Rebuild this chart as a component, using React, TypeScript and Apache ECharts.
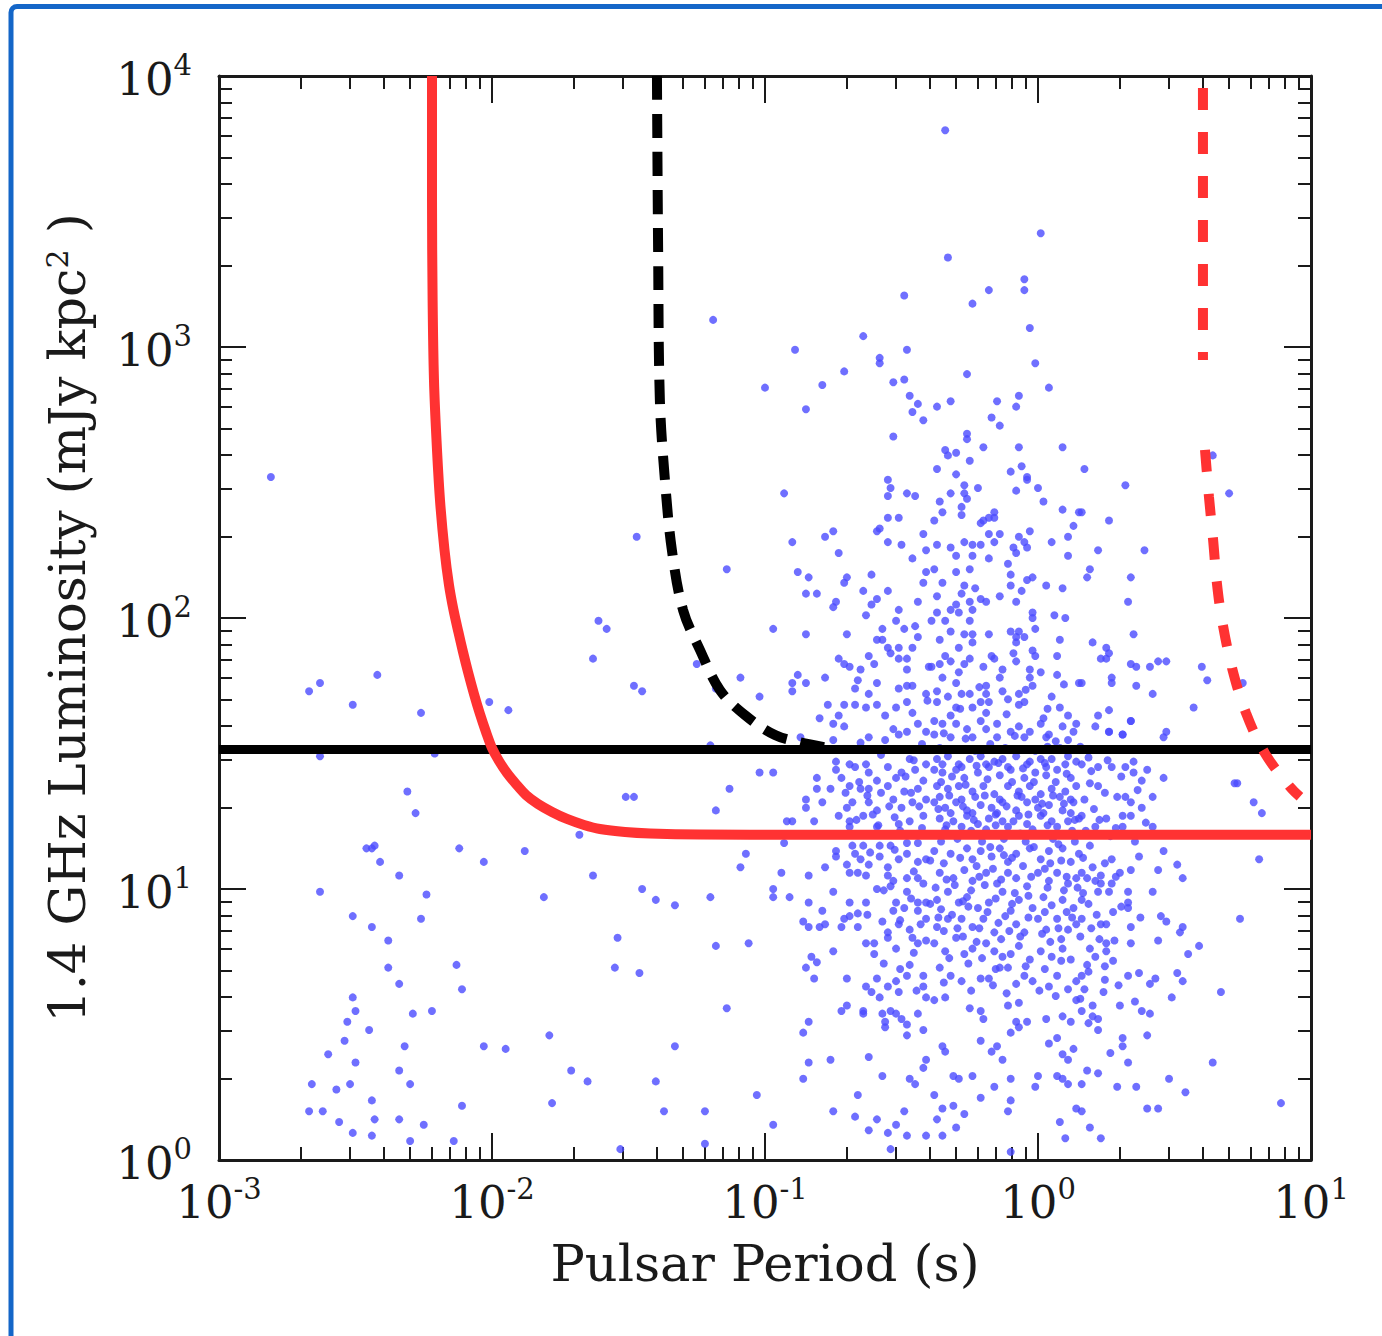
import React, { useEffect, useRef } from "react";
import * as echarts from "echarts";

// ---- axis values ----
const xMin = 0.001;
const xMax = 10;
const yMin = 1;
const yMax = 10000;
const xMinorTicks = [
  0.002, 0.003, 0.004, 0.005, 0.006, 0.007, 0.008, 0.009,
  0.02, 0.03, 0.04, 0.05, 0.06, 0.07, 0.08, 0.09,
  0.2, 0.3, 0.4, 0.5, 0.6, 0.7, 0.8, 0.9,
  2, 3, 4, 5, 6, 7, 8, 9,
];
const yMinorTicks = [
  2, 3, 4, 5, 6, 7, 8, 9,
  20, 30, 40, 50, 60, 70, 80, 90,
  200, 300, 400, 500, 600, 700, 800, 900,
  2000, 3000, 4000, 5000, 6000, 7000, 8000, 9000,
];
const xTitle = "Pulsar Period (s)";
const yTitle = "1.4 GHz Luminosity (mJy kpc{sup|2} )";

// ---- model lines: [period (s), luminosity (mJy kpc^2)] ----
const blackThresholdLum = 32.7;
const redSolidCurve = [
  [0.006029, 10000], [0.006029, 3486], [0.00606, 1491], [0.00613, 755], [0.006262, 454],
  [0.006449, 272.5], [0.006699, 178.2], [0.006957, 132.4], [0.007228, 107.0], [0.00753, 88.8],
  [0.007832, 74.9], [0.008169, 63.2], [0.008593, 52.4], [0.009036, 44.2], [0.009506, 37.96],
  [0.01, 33.14], [0.01061, 29.67], [0.01135, 26.79], [0.01224, 24.41], [0.01332, 22.23],
  [0.01474, 20.59], [0.01659, 19.24], [0.01882, 18.13], [0.02173, 17.23], [0.02486, 16.65],
  [0.0307, 16.23], [0.03792, 16.03], [0.0578, 15.89], [0.1343, 15.86], [10, 15.86],
];
const blackDashedCurve = [
  [0.0402, 10000], [0.0406, 2280], [0.0412, 637], [0.043, 323], [0.0456, 178],
  [0.0501, 107], [0.0578, 76.2], [0.0684, 54.2], [0.0845, 43.8], [0.1088, 37.0],
  [0.1343, 34.8], [0.173, 33.1],
];
const redDashedUpper = [[4.02, 10000], [4.02, 895]];
const redDashedLower = [
  [4.09, 417], [4.23, 279], [4.38, 194], [4.52, 135], [4.72, 98.3], [5.14, 65.3],
  [5.78, 44.6], [6.78, 31.7], [8.38, 23.8], [9.11, 21.9],
];

// ---- pulsars, read as [log10 period, log10 luminosity] ----
const fastPulsarsLog = [
  [-2.81,2.52],[-1.47,2.30],[-1.61,1.99],[-1.58,1.96],[-1.63,1.85],[-2.67,1.73],[-2.63,1.76],[-2.51,1.68],[-2.42,1.79],[-2.26,1.65],
  [-2.01,1.69],[-1.94,1.66],[-1.48,1.75],[-1.45,1.73],[-2.63,1.49],[-2.21,1.50],[-2.31,1.36],[-2.28,1.28],[-2.46,1.15],[-2.44,1.15],
  [-2.43,1.16],[-2.41,1.10],[-2.34,1.05],[-2.63,0.99],[-2.24,0.98],[-2.12,1.15],[-2.03,1.10],[-1.88,1.14],[-1.81,0.97],[-1.68,1.20],
  [-1.63,1.05],[-1.51,1.34],[-1.48,1.34],[-1.45,1.00],[-1.19,3.10],[-1.14,2.18],[-1.25,1.83],
  [-2.51,0.90],[-2.44,0.86],[-2.38,0.81],[-2.38,0.71],[-2.34,0.65],[-2.26,0.89],[-2.22,0.55],[-2.13,0.72],[-2.11,0.63],
  [-2.51,0.60],[-2.50,0.55],[-2.53,0.51],[-2.54,0.44],[-2.45,0.48],[-2.60,0.39],[-2.50,0.36],[-2.66,0.28],[-2.57,0.26],[-2.52,0.28],
  [-2.44,0.22],[-2.34,0.33],[-2.30,0.28],[-2.32,0.42],[-2.29,0.54],[-2.67,0.18],[-2.62,0.18],[-2.56,0.14],[-2.51,0.10],[-2.43,0.15],
  [-2.44,0.09],[-2.34,0.15],[-2.30,0.07],[-2.25,0.13],[-2.14,0.07],[-2.11,0.20],[-2.03,0.42],[-1.95,0.41],[-1.79,0.46],[-1.71,0.33],
  [-1.65,0.29],[-1.78,0.21],
  [-1.54,0.82],[-1.46,0.69],[-1.55,0.71],[-1.40,0.96],[-1.33,0.94],[-1.20,0.97],[-1.09,1.08],[-1.18,0.79],[-1.06,0.80],[-1.14,0.56],
  [-1.33,0.42],[-1.40,0.29],[-1.53,0.04],[-1.37,0.18],[-1.22,0.18],[-1.22,0.06],[-1.03,0.24],[-1.07,1.13],[-1.18,1.29],[-1.13,1.37],
  [-1.02,1.43],[-1.20,1.53],[-1.09,1.78],[-1.02,1.71],[-1.18,1.74],
];
const slowPulsarsLog = [
  [-0.34,3.80],[0.01,3.42],[-0.33,3.33],[-1.00,2.85],
  [-0.49,3.19],[-0.64,3.04],[-0.89,2.99],[-0.48,2.99],[-0.58,2.96],[-0.58,2.94],[-0.71,2.91],[-0.49,2.88],[-0.53,2.87],[-0.79,2.86],
  [-0.47,2.82],[-0.44,2.79],[-0.46,2.76],[-0.42,2.73],[-0.85,2.77],[-0.53,2.67],[-0.55,2.51],[-0.54,2.48],[-0.55,2.45],[-0.93,2.46],
  [-0.48,2.46],[-0.45,2.45],[-0.55,2.37],[-0.51,2.37],[-0.58,2.33],[-0.59,2.32],[-0.75,2.32],[-0.78,2.30],[-0.42,2.31],[-0.90,2.28],
  [-0.55,2.28],[-0.50,2.27],[-0.73,2.24],[-0.46,2.22],[-0.41,2.25],[-0.88,2.17],[-0.84,2.15],[-0.70,2.15],[-0.71,2.13],[-0.61,2.16],
  [-0.41,2.17],[-0.42,2.13],[-0.85,2.09],[-0.81,2.09],[-0.64,2.10],[-0.55,2.10],[-0.59,2.07],[-0.61,2.05],[-0.74,2.06],[-0.75,2.04],
  [-0.44,2.06],[-0.51,2.03],[-0.63,2.01],[-0.97,1.96],[-0.85,1.94],[-0.70,1.94],[-0.57,1.96],[-0.52,1.99],[-0.49,1.96],[-0.45,1.97],
  [-0.59,1.92],[-0.57,1.92],[-0.55,1.89],[-0.54,1.87],[-0.51,1.89],[-0.46,1.89],[-0.44,1.93],[-0.62,1.86],[-0.60,1.83],[-0.73,1.85],
  [-0.71,1.83],[-0.69,1.82],[-0.65,1.81],[-0.66,1.77],[-0.67,1.74],[-0.59,1.76],[-0.62,1.72],[-0.51,1.85],[-0.48,1.85],[-0.48,1.81],
  [-0.88,1.79],[-0.90,1.76],[-0.90,1.73],[-0.85,1.76],[-0.78,1.78],[-0.51,1.74],[-0.48,1.75],[-0.46,1.75],[-0.41,1.72],[-0.40,1.82],
  [-0.77,1.68],[-0.71,1.68],[-0.67,1.68],[-0.63,1.67],[-0.59,1.68],[-0.52,1.67],[-0.48,1.69],[-0.56,1.64],[-0.80,1.63],[-0.73,1.64],
  [-0.46,1.65],
  [-0.18,3.21],[-0.05,3.21],[-0.05,3.25],[-0.24,3.16],[-0.03,3.07],[-0.01,2.94],[-0.26,2.90],[0.04,2.85],[-0.37,2.78],[-0.32,2.80],
  [-0.15,2.80],[-0.07,2.82],[-0.08,2.78],[-0.17,2.74],[-0.14,2.71],[-0.26,2.68],[-0.26,2.66],[-0.34,2.62],[-0.33,2.60],[-0.30,2.61],
  [-0.20,2.63],[-0.07,2.63],[0.09,2.63],[-0.25,2.58],[-0.37,2.55],[-0.30,2.53],[-0.10,2.54],[-0.06,2.56],[-0.04,2.52],[-0.04,2.51],
  [-0.27,2.49],[-0.22,2.48],[-0.08,2.47],[0.00,2.48],[-0.32,2.46],[-0.27,2.46],[-0.26,2.44],[-0.36,2.43],[0.02,2.43],[-0.28,2.41],
  [-0.35,2.39],[-0.28,2.38],[-0.38,2.36],[0.09,2.40],[0.15,2.39],[-0.16,2.39],[-0.20,2.36],[-0.18,2.37],[-0.16,2.37],[-0.21,2.35],
  [0.13,2.34],[-0.03,2.32],[-0.14,2.31],[-0.18,2.31],[-0.16,2.28],[-0.21,2.27],[-0.27,2.28],[-0.24,2.27],[-0.07,2.30],[-0.05,2.28],
  [-0.04,2.26],[-0.09,2.26],[-0.08,2.24],[-0.37,2.27],[-0.32,2.26],[-0.30,2.23],[-0.24,2.23],[-0.18,2.22],[-0.11,2.20],[0.05,2.28],
  [0.11,2.23],[0.11,2.30],[-0.25,2.18],[-0.30,2.17],[-0.38,2.18],[-0.35,2.13],[-0.10,2.16],[-0.10,2.12],[-0.04,2.14],[-0.02,2.15],
  [-0.06,2.10],[0.03,2.12],[0.09,2.11],[-0.27,2.12],[-0.23,2.11],[-0.28,2.09],[-0.37,2.08],[-0.21,2.07],[-0.19,2.06],[-0.25,2.06],
  [-0.30,2.05],[-0.32,2.03],[-0.29,2.02],[-0.24,2.03],[-0.14,2.08],[-0.08,2.06],[-0.37,2.02],[-0.39,1.99],[-0.25,1.99],[-0.34,1.99],
  [-0.02,2.02],[-0.02,2.00],[0.06,2.01],[0.10,2.00],[-0.32,1.95],[-0.27,1.94],[-0.24,1.94],[-0.18,1.94],[-0.10,1.95],[-0.07,1.95],
  [-0.08,1.93],[-0.05,1.93],[-0.08,1.91],[-0.01,1.96],[0.08,1.92],[-0.36,1.92],[-0.24,1.91],[-0.29,1.89],[-0.02,1.88],[-0.01,1.86],
  [0.07,1.86],[-0.17,1.86],[-0.16,1.85],[-0.09,1.87],[-0.08,1.84],[-0.25,1.85],[-0.27,1.83],[-0.20,1.82],[-0.34,1.86],[-0.32,1.84],
  [-0.36,1.83],[-0.39,1.82],[-0.35,1.78],[-0.29,1.80],[-0.30,1.76],[-0.37,1.73],[-0.13,1.81],[-0.14,1.78],[-0.03,1.81],[-0.03,1.78],
  [0.01,1.80],[0.07,1.79],[-0.02,1.75],[-0.07,1.72],[-0.11,1.70],[-0.13,1.73],[-0.19,1.75],[-0.19,1.72],[-0.21,1.69],[-0.18,1.69],
  [-0.25,1.72],[-0.28,1.72],[-0.33,1.71],[-0.37,1.69],[-0.30,1.67],[-0.24,1.67],[-0.07,1.68],[-0.05,1.69],[0.05,1.71],[0.08,1.67],
  [0.11,1.64],[0.15,1.76],[0.02,1.63],[-0.19,1.65],[-0.32,1.64],
  [0.17,2.55],[0.32,2.49],[0.16,2.39],[0.26,2.36],[0.22,2.25],[0.39,2.25],[0.19,2.18],[0.18,2.15],[0.34,2.15],[0.33,2.06],
  [0.35,1.94],[0.20,1.91],[0.25,1.89],[0.26,1.87],[0.23,1.85],[0.25,1.85],[0.34,1.83],[0.36,1.82],[0.41,1.82],[0.44,1.84],
  [0.47,1.84],[0.60,1.82],[0.62,1.77],[0.27,1.78],[0.27,1.76],[0.16,1.76],[0.36,1.75],[0.42,1.72],[0.26,1.66],[0.22,1.64],
  [0.57,1.67],[0.34,1.62],[0.64,2.60],[0.70,2.46],[0.75,1.76],[0.46,1.56],[0.26,1.58],[0.31,1.57],[0.73,1.39],[0.79,1.32],
  [0.82,1.28],[0.81,1.11],
  [-0.75,1.61],[-0.71,1.60],[-0.53,1.59],[-0.51,1.57],[-0.48,1.58],[-0.44,1.61],[-0.41,1.58],[-0.56,1.55],[-0.62,1.56],[-0.65,1.54],
  [-0.75,1.55],[-0.87,1.56],[-0.97,1.43],[-0.81,1.41],[-0.74,1.47],[-0.74,1.44],[-0.72,1.41],[-0.69,1.46],[-0.67,1.45],[-0.63,1.46],
  [-0.62,1.43],[-0.59,1.40],[-0.55,1.45],[-0.52,1.41],[-0.50,1.43],[-0.47,1.48],[-0.45,1.44],[-0.42,1.40],[-0.41,1.46],[-0.81,1.37],
  [-0.76,1.37],[-0.69,1.38],[-0.65,1.37],[-0.62,1.37],[-0.55,1.38],[-0.49,1.36],[-0.44,1.37],[-0.85,1.33],[-0.85,1.30],[-0.79,1.32],
  [-0.70,1.30],[-0.68,1.32],[-0.62,1.32],[-0.59,1.29],[-0.53,1.33],[-0.50,1.30],[-0.46,1.32],[-0.41,1.33],[-0.92,1.25],[-0.90,1.25],
  [-0.82,1.25],[-0.73,1.27],[-0.69,1.25],[-0.69,1.23],[-0.64,1.27],[-0.59,1.23],[-0.51,1.24],[-0.47,1.25],[-0.42,1.27],
  [-0.93,1.17],[-0.68,1.16],[-0.64,1.16],[-0.58,1.16],[-0.54,1.16],[-0.48,1.17],[-0.44,1.17],[-0.74,1.14],[-0.74,1.12],[-0.67,1.13],
  [-0.65,1.11],[-0.62,1.09],[-0.58,1.12],[-0.55,1.08],[-0.51,1.11],[-0.48,1.13],[-0.44,1.10],[-0.41,1.11],[-0.78,1.08],[-0.94,1.06],
  [-0.84,1.05],[-0.70,1.09],[-0.69,1.06],[-0.66,1.06],[-0.63,1.05],[-0.55,1.05],[-0.53,1.03],[-0.48,1.04],[-0.44,1.04],[-0.59,1.00],
  [-0.54,1.01],[-0.48,0.99],[-0.42,1.02],[-0.97,1.00],[-0.97,0.97],[-0.91,0.97],[-0.75,0.99],[-0.84,0.95],[-0.69,0.95],[-0.63,0.95],
  [-0.52,0.95],[-0.49,0.93],[-0.44,0.95],[-0.41,0.95],[-0.79,0.92],[-0.66,0.91],[-0.53,0.92],[-0.44,0.92],[-0.86,0.88],[-0.84,0.86],
  [-0.80,0.86],[-0.78,0.87],[-0.72,0.86],[-0.71,0.89],[-0.69,0.90],[-0.66,0.86],[-0.57,0.88],[-0.55,0.84],[-0.51,0.87],[-0.47,0.85],
  [-0.43,0.87],[-0.41,0.89],[-0.63,0.80],[-0.60,0.80],[-0.55,0.82],[-0.52,0.78],[-0.46,0.82],[-0.44,0.80],[-0.41,0.81],[-0.75,0.77],
  [-0.83,0.75],[-0.81,0.73],[-0.60,0.76],[-0.85,0.71],[-0.82,0.67],[-0.70,0.67],[-0.47,0.72],[-0.48,0.68],[-0.42,0.68],[-0.59,0.67],
  [-0.55,0.64],[-0.63,0.64],[-0.61,0.62],[-0.58,0.60],[-0.52,0.66],[-0.51,0.62],[-0.42,0.64],[-0.41,0.60],[-0.70,0.57],[-0.72,0.55],
  [-0.64,0.55],[-0.64,0.54],[-0.57,0.54],[-0.54,0.55],[-0.52,0.54],[-0.56,0.51],[-0.56,0.49],[-0.50,0.52],[-0.48,0.50],[-0.48,0.46],
  [-0.44,0.54],[-0.42,0.48],[-0.84,0.51],[-0.86,0.47],[-0.84,0.36],[-0.76,0.37],[-0.62,0.38],[-0.57,0.31],[-0.86,0.30],[-0.47,0.30],
  [-0.45,0.28],[-0.41,0.37],[-0.42,0.34],[-0.66,0.24],[-0.75,0.18],[-0.67,0.16],[-0.59,0.15],[-0.62,0.11],[-0.55,0.10],[-0.52,0.13],
  [-0.49,0.18],[-0.48,0.09],[-0.41,0.09],[-0.54,0.04],[-0.97,0.13],
  [-0.655,1.395],[-0.575,1.355],[-0.485,1.415],[-0.435,1.305],[-0.605,1.275],[-0.525,1.265],
  [-0.615,1.135],[-0.525,1.145],[-0.455,1.065],[-0.565,0.995],[-0.465,0.965],[-0.625,0.905],[-0.505,0.885],[-0.455,0.765],
  [-0.565,0.725],[-0.505,0.705],[-0.445,0.625],
  [-0.625,1.345],[-0.545,1.305],[-0.465,1.355],[-0.585,1.235],[-0.505,1.215],[-0.425,1.225],[-0.665,1.255],[-0.455,1.475],
  [-0.575,1.495],[-0.705,1.355],
  [-0.38,1.62],[-0.35,1.61],[-0.30,1.61],[-0.26,1.59],[-0.21,1.62],[-0.19,1.59],[-0.15,1.61],[-0.10,1.58],[-0.07,1.60],[-0.03,1.58],
  [0.01,1.61],[0.04,1.57],[0.09,1.60],[0.13,1.58],[0.14,1.61],[-0.38,1.57],[-0.32,1.56],[-0.24,1.56],[-0.15,1.56],[-0.05,1.56],
  [0.03,1.56],[0.11,1.55],[-0.36,1.52],[-0.23,1.51],[-0.12,1.52],[-0.01,1.51],[0.08,1.52],
  [-0.285,1.665],[-0.215,1.745],[-0.115,1.645],[-0.045,1.735],[0.035,1.665],[0.095,1.755],[-0.405,1.695],[-0.345,1.575],
  [-0.425,1.535],[-0.265,1.555],[-0.175,1.535],[-0.085,1.565],[0.065,1.545],[0.155,1.525],[-0.305,1.515],[0.035,1.525],
  [-0.37,1.48],[-0.33,1.49],[-0.29,1.46],[-0.25,1.48],[-0.21,1.49],[-0.16,1.47],[-0.13,1.48],[-0.08,1.49],[-0.03,1.47],[0.01,1.48],
  [0.05,1.48],[0.11,1.49],[0.14,1.47],[-0.35,1.46],[-0.28,1.45],[-0.19,1.46],[-0.11,1.45],[-0.04,1.46],[0.03,1.45],[0.10,1.46],
  [-0.38,1.44],[-0.35,1.43],[-0.30,1.44],[-0.27,1.41],[-0.22,1.43],[-0.18,1.45],[-0.14,1.42],[-0.10,1.44],[-0.05,1.41],[-0.01,1.43],
  [0.03,1.42],[0.07,1.44],[0.12,1.41],[-0.37,1.38],[-0.33,1.37],[-0.29,1.38],[-0.24,1.36],[-0.20,1.38],[-0.16,1.35],[-0.11,1.38],
  [-0.07,1.36],[-0.03,1.38],[0.01,1.35],[0.05,1.37],[0.10,1.36],[0.14,1.38],[-0.36,1.34],[-0.28,1.33],[-0.23,1.34],[-0.14,1.33],
  [-0.06,1.34],[-0.01,1.33],[0.08,1.34],[0.12,1.33],[-0.38,1.32],[-0.34,1.30],[-0.30,1.32],[-0.26,1.29],[-0.21,1.31],[-0.17,1.30],
  [-0.13,1.32],[-0.08,1.29],[-0.04,1.32],[0.00,1.30],[0.04,1.31],[0.09,1.29],[0.13,1.32],[-0.32,1.28],[-0.24,1.28],[-0.15,1.28],
  [-0.07,1.27],[0.02,1.28],[0.12,1.28],[-0.36,1.26],[-0.31,1.25],[-0.26,1.27],[-0.22,1.24],[-0.18,1.26],[-0.13,1.25],[-0.09,1.25],
  [-0.04,1.24],[0.01,1.27],[0.05,1.25],[0.11,1.25],[0.15,1.26],[-0.34,1.22],[-0.28,1.23],[-0.19,1.22],[-0.11,1.23],[-0.02,1.22],
  [0.07,1.23],
  [-0.355,1.395],[-0.315,1.415],[-0.265,1.385],[-0.225,1.455],[-0.185,1.405],[-0.145,1.465],[-0.095,1.395],[-0.055,1.445],
  [-0.015,1.395],[0.025,1.465],[0.065,1.395],[0.105,1.425],[-0.365,1.295],[-0.325,1.345],[-0.275,1.305],[-0.235,1.255],
  [-0.195,1.345],[-0.155,1.275],[-0.115,1.305],[-0.075,1.345],[-0.035,1.275],[0.015,1.315],[0.055,1.345],[0.095,1.315],
  [0.135,1.255],[-0.335,1.235],[-0.245,1.215],[-0.155,1.235],[-0.065,1.205],[0.035,1.235],[0.125,1.215],
  [-0.38,1.14],[-0.32,1.13],[-0.26,1.15],[-0.24,1.11],[-0.21,1.14],[-0.17,1.12],[-0.14,1.15],[-0.11,1.10],[-0.08,1.13],[-0.03,1.15],
  [0.01,1.11],[0.04,1.14],[0.09,1.15],[0.12,1.10],[0.15,1.13],[-0.36,1.06],[-0.31,1.04],[-0.27,1.07],[-0.24,1.03],[-0.19,1.06],
  [-0.15,1.02],[-0.11,1.06],[-0.08,1.04],[-0.04,1.01],[0.00,1.06],[0.04,1.03],[0.07,1.06],[0.11,1.02],[0.14,1.04],[-0.37,0.96],
  [-0.33,0.99],[-0.29,0.95],[-0.26,0.97],[-0.22,0.93],[-0.18,0.95],[-0.13,0.99],[-0.10,0.92],[-0.07,0.96],[-0.02,0.93],[0.02,0.97],
  [0.05,0.94],[0.09,0.96],[0.13,0.93],[-0.37,0.86],[-0.33,0.89],[-0.28,0.89],[-0.24,0.86],[-0.20,0.89],[-0.16,0.84],[-0.12,0.90],
  [-0.08,0.87],[-0.05,0.84],[0.00,0.89],[0.03,0.85],[0.07,0.89],[0.11,0.85],[0.14,0.87],[-0.38,0.80],[-0.34,0.77],[-0.30,0.82],
  [-0.27,0.76],[-0.24,0.78],[-0.19,0.80],[-0.16,0.77],[-0.13,0.75],[-0.10,0.76],[-0.07,0.79],[-0.03,0.74],[0.01,0.77],[0.05,0.75],
  [0.09,0.78],[0.12,0.74],[-0.36,0.71],[-0.32,0.68],[-0.28,0.66],[-0.21,0.67],[-0.18,0.67],[-0.14,0.71],[-0.11,0.71],[-0.08,0.65],
  [-0.05,0.68],[-0.02,0.66],[0.04,0.64],[0.07,0.68],[0.11,0.63],[0.14,0.66],[-0.38,0.59],[-0.34,0.60],[-0.25,0.56],[-0.21,0.55],
  [-0.20,0.52],[-0.11,0.57],[-0.07,0.58],[-0.08,0.51],[-0.04,0.51],[0.03,0.52],[0.09,0.53],[0.12,0.51],[0.14,0.59],[-0.35,0.42],
  [-0.34,0.40],[-0.21,0.44],[-0.17,0.40],[-0.15,0.42],[-0.13,0.37],[-0.10,0.47],[-0.07,0.49],[0.04,0.43],[0.07,0.45],[0.09,0.39],
  [0.11,0.37],[0.13,0.41],[-0.31,0.31],[-0.29,0.30],[-0.24,0.31],[-0.16,0.27],[-0.10,0.30],[0.00,0.31],[-0.01,0.27],[0.07,0.31],
  [0.09,0.30],[0.11,0.28],[-0.38,0.24],[-0.31,0.20],[-0.27,0.17],[-0.21,0.23],[-0.11,0.18],[-0.10,0.22],[-0.35,0.19],[-0.37,0.15],
  [-0.30,0.12],[-0.35,0.09],[0.08,0.14],[0.10,0.08],[0.14,0.19],[-0.10,0.03],
  [-0.355,1.175],[-0.295,1.185],[-0.205,1.175],[-0.125,1.185],[-0.045,1.175],[0.055,1.185],[0.135,1.175],
  [-0.345,1.095],[-0.285,1.115],[-0.225,1.085],[-0.165,1.075],[-0.125,1.125],[-0.055,1.085],[0.025,1.075],[0.085,1.105],
  [0.165,1.115],[0.245,1.095],[-0.375,1.005],[-0.305,1.015],[-0.245,0.995],[-0.195,1.015],[-0.135,1.035],[-0.085,0.985],
  [-0.025,1.045],[0.035,1.005],[0.095,0.995],[0.145,1.005],[0.185,0.945],[0.285,1.045],[-0.355,0.925],[-0.315,0.905],
  [-0.255,0.935],[-0.185,0.915],[-0.145,0.875],[-0.095,0.945],[-0.035,0.895],[0.025,0.915],[0.075,0.855],[0.125,0.895],
  [0.195,0.855],[0.275,0.915],[-0.345,0.845],[-0.275,0.825],[-0.215,0.855],[-0.135,0.815],[-0.065,0.825],[0.015,0.835],
  [0.085,0.815],[0.155,0.825],[0.225,0.815],[-0.325,0.745],[-0.255,0.725],[-0.205,0.745],[-0.155,0.705],[-0.045,0.715],
  [0.025,0.705],[0.085,0.735],[0.185,0.695],[0.275,0.735],[-0.345,0.655],[-0.245,0.625],[-0.165,0.645],[-0.115,0.615],
  [0.005,0.625],[0.065,0.605],[0.155,0.595],[0.245,0.665],
  [-0.395,1.105],[-0.335,1.035],[-0.275,0.955],[-0.215,1.045],[-0.155,0.965],[-0.095,1.115],[-0.035,0.975],[0.045,1.095],
  [0.105,1.045],[0.165,0.985],[-0.365,0.895],[-0.295,0.855],[-0.225,0.805],[-0.105,0.845],[0.045,0.805],[0.105,0.915],
  [-0.395,0.945],[-0.175,1.155],[0.075,1.165],[-0.015,1.155],
  [0.21,1.60],[0.26,1.58],[0.31,1.57],[0.34,1.62],[0.47,1.58],[0.16,1.46],[0.22,1.45],[0.27,1.45],[0.32,1.45],[0.35,1.47],
  [0.35,1.43],[0.40,1.44],[0.38,1.40],[0.46,1.41],[0.72,1.39],[0.19,1.39],[0.22,1.38],[0.17,1.33],[0.29,1.34],[0.32,1.34],
  [0.34,1.32],[0.38,1.30],[0.42,1.34],[0.16,1.27],[0.25,1.26],[0.31,1.27],[0.34,1.27],[0.21,1.23],[0.31,1.23],[0.42,1.23],
  [0.19,1.16],[0.27,1.11],[0.37,1.12],[0.46,1.14],[0.51,1.09],[0.53,1.04],[0.20,1.08],[0.16,1.06],[0.18,1.04],[0.21,1.03],
  [0.23,1.05],[0.23,1.02],[0.27,1.02],[0.30,1.06],[0.34,1.07],[0.44,1.07],[0.22,0.99],[0.26,0.99],[0.33,0.99],[0.42,0.99],
  [0.16,0.96],[0.33,0.95],[0.33,0.93],[0.16,0.89],[0.45,0.90],[0.47,0.88],[0.34,0.86],[0.23,0.87],[0.25,0.87],[0.52,0.84],
  [0.53,0.86],[0.74,0.89],[0.25,0.80],[0.28,0.81],[0.34,0.80],[0.44,0.81],[0.19,0.78],[0.25,0.77],[0.55,0.76],[0.59,0.79],
  [0.18,0.72],[0.21,0.75],[0.16,0.68],[0.33,0.68],[0.37,0.69],[0.43,0.67],[0.41,0.65],[0.51,0.69],[0.53,0.66],[0.17,0.63],
  [0.24,0.62],[0.49,0.60],[0.67,0.62],[0.16,0.55],[0.20,0.57],[0.30,0.57],[0.38,0.55],[0.41,0.54],[0.20,0.53],[0.22,0.52],
  [0.22,0.48],[0.31,0.45],[0.31,0.42],[0.40,0.46],[0.33,0.36],[0.18,0.33],[0.22,0.32],[0.64,0.36],[0.16,0.28],[0.29,0.27],
  [0.36,0.27],[0.48,0.30],[0.54,0.25],[0.16,0.18],[0.40,0.19],[0.44,0.19],[0.19,0.12],[0.23,0.08],[0.89,0.21],
  [0.185,1.485],[0.285,1.515],[0.205,1.295],[0.265,1.195],[0.355,1.175],[0.175,1.215],[0.305,0.935],[0.215,0.905],
  [0.375,0.895],[0.245,0.715],[0.295,0.645],[0.355,0.585],[0.185,0.505],[0.265,0.395],
  [0.195,1.435],[0.245,1.355],[0.305,1.415],[0.365,1.365],[0.225,1.255],[0.285,1.225],[0.395,1.245],[0.175,1.515],[0.255,1.475],
];

const fontFamily = "'DejaVu Serif', serif";
const ink = "#1a1a1a";

function toValues(list: number[][]) {
  return list.map(([lp, ll]) => [Math.pow(10, lp), Math.pow(10, ll)]);
}

function expLabel(v: number) {
  const e = Math.round(Math.log10(v));
  return `{b|10}{s|${e}}`;
}

const labelRich = {
  b: { fontSize: 45, lineHeight: 51, verticalAlign: "bottom", fontFamily, color: ink },
  s: { fontSize: 29, verticalAlign: "top", fontFamily, color: ink },
};

function makeX(position: "bottom" | "top", minor: boolean, labels: boolean) {
  return {
    type: "log",
    logBase: 10,
    min: xMin,
    max: xMax,
    position,
    gridIndex: 0,
    axisLine: { show: !minor, onZero: false, lineStyle: { color: ink, width: 3 } },
    axisTick: minor
      ? { show: true, inside: true, length: 13, customValues: xMinorTicks, lineStyle: { color: ink, width: 2 } }
      : { show: true, inside: true, length: 27, lineStyle: { color: ink, width: 2 } },
    axisLabel: labels
      ? { show: true, formatter: expLabel, rich: labelRich, margin: 14, showMinLabel: true, showMaxLabel: true, hideOverlap: false }
      : { show: false },
    splitLine: { show: false },
    minorTick: { show: false },
    name: labels ? xTitle : "",
    nameLocation: "middle",
    nameGap: 78,
    nameTextStyle: { fontSize: 51, fontFamily, color: ink },
  };
}

function makeY(position: "left" | "right", minor: boolean, labels: boolean) {
  return {
    type: "log",
    logBase: 10,
    min: yMin,
    max: yMax,
    position,
    gridIndex: 0,
    axisLine: { show: !minor, onZero: false, lineStyle: { color: ink, width: 3 } },
    axisTick: minor
      ? { show: true, inside: true, length: 13, customValues: yMinorTicks, lineStyle: { color: ink, width: 2 } }
      : { show: true, inside: true, length: 27, lineStyle: { color: ink, width: 2 } },
    axisLabel: labels
      ? { show: true, formatter: expLabel, rich: labelRich, margin: 27, showMinLabel: true, showMaxLabel: true, hideOverlap: false }
      : { show: false },
    splitLine: { show: false },
    minorTick: { show: false },
    name: labels ? yTitle : "",
    nameLocation: "middle",
    nameRotate: 90,
    nameGap: 126,
    nameTextStyle: {
      fontSize: 51,
      fontFamily,
      color: ink,
      rich: { sup: { fontSize: 30, verticalAlign: "top", fontFamily, color: ink } },
    },
  };
}

export default function App() {
  const ref = useRef<HTMLDivElement>(null);
  useEffect(() => {
    document.body.style.margin = "0";
    if (!ref.current) return;
    const chart = echarts.init(ref.current, null, { renderer: "svg" });
    const dot = { type: "scatter", xAxisIndex: 0, yAxisIndex: 0, symbol: "circle", symbolSize: 8, itemStyle: { color: "#4b4bff" }, z: 2, silent: true };
    chart.setOption({
      animation: false,
      backgroundColor: "#ffffff",
      grid: { left: 219, top: 76, width: 1092, height: 1084, containLabel: false },
      xAxis: [makeX("bottom", false, true), makeX("bottom", true, false), makeX("top", false, false), makeX("top", true, false)],
      yAxis: [makeY("left", false, true), makeY("left", true, false), makeY("right", false, false), makeY("right", true, false)],
      series: [
        { ...dot, name: "fast pulsars", data: toValues(fastPulsarsLog) },
        { ...dot, name: "slow pulsars", data: toValues(slowPulsarsLog) },
        {
          type: "line", name: "threshold", xAxisIndex: 0, yAxisIndex: 0, showSymbol: false, z: 4,
          data: [[xMin, blackThresholdLum], [xMax, blackThresholdLum]],
          lineStyle: { color: "#000000", width: 9 },
        },
        {
          type: "line", name: "red solid", xAxisIndex: 0, yAxisIndex: 0, showSymbol: false, smooth: 0.3, z: 5,
          data: redSolidCurve, lineStyle: { color: "#ff3232", width: 10, join: "round" },
        },
        {
          type: "line", name: "black dashed", xAxisIndex: 0, yAxisIndex: 0, showSymbol: false, smooth: 0.35, z: 5,
          data: blackDashedCurve, lineStyle: { color: "#000000", width: 10, type: [24, 14] },
        },
        {
          type: "line", name: "red dashed a", xAxisIndex: 0, yAxisIndex: 0, showSymbol: false, z: 5,
          data: redDashedUpper, lineStyle: { color: "#ff3232", width: 10, type: [22, 22], dashOffset: -12 },
        },
        {
          type: "line", name: "red dashed b", xAxisIndex: 0, yAxisIndex: 0, showSymbol: false, smooth: 0.35, z: 5,
          data: redDashedLower, lineStyle: { color: "#ff3232", width: 10, type: [22, 22] },
        },
      ],
      graphic: [
        {
          type: "rect", silent: true, z: 100,
          shape: { x: 11, y: 6.5, width: 1500, height: 1500, r: 6 },
          style: { fill: "none", stroke: "#1466c8", lineWidth: 5 },
        },
      ],
    });
    return () => chart.dispose();
  }, []);
  return <div ref={ref} style={{ width: 1382, height: 1336 }} />;
}
